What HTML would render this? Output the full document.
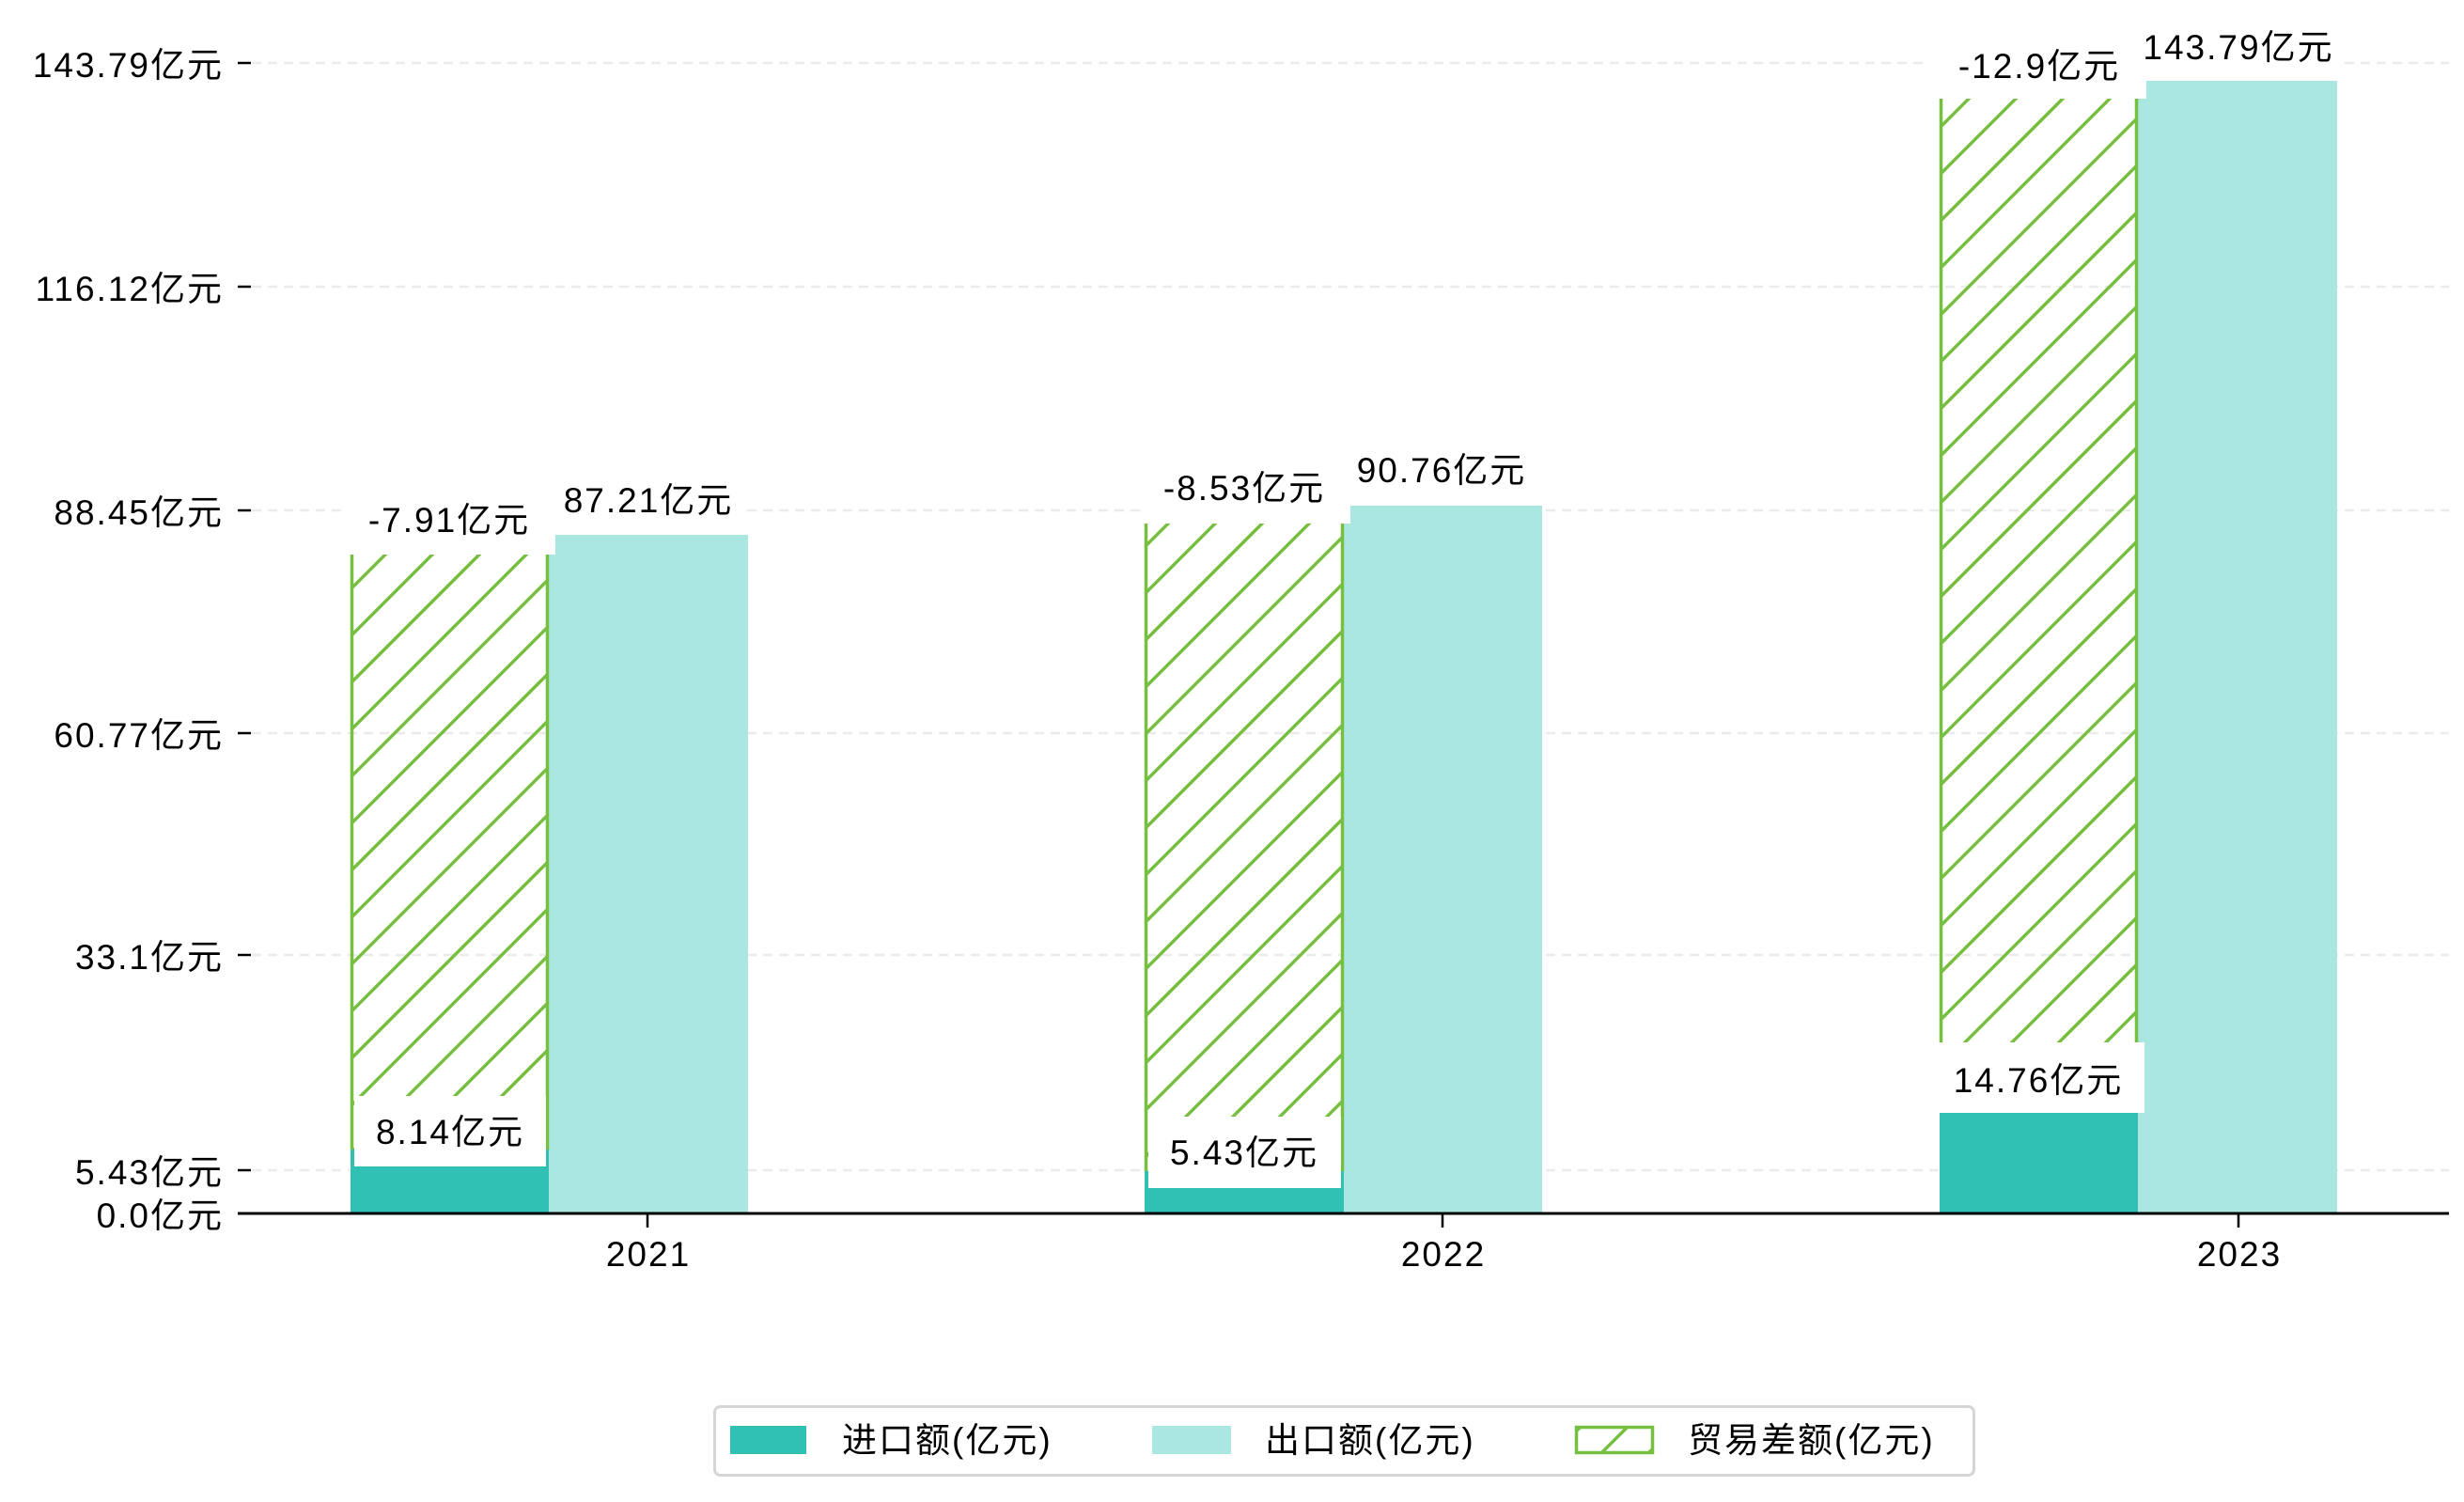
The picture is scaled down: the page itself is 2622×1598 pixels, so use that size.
<!DOCTYPE html>
<html><head><meta charset="utf-8"><style>
html,body{margin:0;padding:0;background:#fff;}
svg{display:block;}
text{font-family:"Liberation Sans","WenQuanYi Zen Hei","Noto Sans CJK SC",sans-serif;font-size:37px;fill:#000;letter-spacing:2px;}
</style></head><body>
<svg width="2622" height="1598" viewBox="0 0 2622 1598" xmlns="http://www.w3.org/2000/svg">
<defs>
<pattern id="h" patternUnits="userSpaceOnUse" width="50" height="50">
<path d="M0 50L50 0M-25 25L25 -25M25 75L75 25" stroke="#77bf41" stroke-width="3.5"/>
</pattern>
</defs>
<rect width="2622" height="1598" fill="#fff"/>
<g stroke="#ebebeb" stroke-width="2.5" stroke-dasharray="10 7">
<line x1="268" y1="67" x2="2606" y2="67"/>
<line x1="268" y1="305" x2="2606" y2="305"/>
<line x1="268" y1="543" x2="2606" y2="543"/>
<line x1="268" y1="780" x2="2606" y2="780"/>
<line x1="268" y1="1016" x2="2606" y2="1016"/>
<line x1="268" y1="1245" x2="2606" y2="1245"/>
</g>
<g stroke="#000" stroke-width="2.5">
<line x1="253" y1="67" x2="267" y2="67"/>
<line x1="253" y1="305" x2="267" y2="305"/>
<line x1="253" y1="543" x2="267" y2="543"/>
<line x1="253" y1="780" x2="267" y2="780"/>
<line x1="253" y1="1016" x2="267" y2="1016"/>
<line x1="253" y1="1245" x2="267" y2="1245"/>
</g>
<g text-anchor="end">
<text x="238" y="82">143.79亿元</text>
<text x="238" y="320">116.12亿元</text>
<text x="238" y="558">88.45亿元</text>
<text x="238" y="795">60.77亿元</text>
<text x="238" y="1031">33.1亿元</text>
<text x="238" y="1260">5.43亿元</text>
<text x="238" y="1306">0.0亿元</text>
</g>
<!-- 2021 -->
<rect x="373" y="1223" width="211" height="68" fill="#31c1b4"/>
<rect x="584" y="569" width="212" height="722" fill="#abe7e1"/>
<rect x="373" y="590" width="211" height="633" fill="url(#h)"/>
<line x1="374.5" y1="590" x2="374.5" y2="1223" stroke="#77bf41" stroke-width="3.5"/>
<line x1="582.5" y1="590" x2="582.5" y2="1223" stroke="#77bf41" stroke-width="3.5"/>
<rect x="377" y="1166" width="204" height="75" fill="#fff"/>
<rect x="368" y="515" width="223" height="75" fill="#fff"/>
<rect x="585" y="495" width="208" height="74" fill="#fff"/>
<!-- 2022 -->
<rect x="1218" y="1246" width="212" height="45" fill="#31c1b4"/>
<rect x="1430" y="538" width="211" height="753" fill="#abe7e1"/>
<rect x="1218" y="557" width="212" height="689" fill="url(#h)"/>
<line x1="1219.5" y1="557" x2="1219.5" y2="1246" stroke="#77bf41" stroke-width="3.5"/>
<line x1="1428.5" y1="557" x2="1428.5" y2="1246" stroke="#77bf41" stroke-width="3.5"/>
<rect x="1222" y="1188" width="205" height="76" fill="#fff"/>
<rect x="1213" y="482" width="224" height="75" fill="#fff"/>
<rect x="1431" y="463" width="208" height="75" fill="#fff"/>
<!-- 2023 -->
<rect x="2064" y="1184" width="211" height="107" fill="#31c1b4"/>
<rect x="2275" y="86" width="212" height="1205" fill="#abe7e1"/>
<rect x="2064" y="105" width="211" height="1079" fill="url(#h)"/>
<line x1="2065.5" y1="105" x2="2065.5" y2="1184" stroke="#77bf41" stroke-width="3.5"/>
<line x1="2273.5" y1="105" x2="2273.5" y2="1184" stroke="#77bf41" stroke-width="3.5"/>
<rect x="2000" y="1109" width="282" height="75" fill="#fff"/>
<rect x="2050" y="30" width="234" height="75" fill="#fff"/>
<rect x="2270" y="11" width="222" height="75" fill="#fff"/>
<g text-anchor="middle">
<text x="479" y="1217">8.14亿元</text>
<text x="478" y="566">-7.91亿元</text>
<text x="690" y="545">87.21亿元</text>
<text x="1324" y="1239">5.43亿元</text>
<text x="1324" y="532">-8.53亿元</text>
<text x="1534" y="513">90.76亿元</text>
<text x="2169" y="1162">14.76亿元</text>
<text x="2170" y="83">-12.9亿元</text>
<text x="2382" y="63">143.79亿元</text>
</g>
<line x1="253" y1="1291" x2="2606" y2="1291" stroke="#000" stroke-width="3"/>
<g stroke="#000" stroke-width="2.5">
<line x1="689" y1="1291" x2="689" y2="1306"/>
<line x1="1535" y1="1291" x2="1535" y2="1306"/>
<line x1="2382" y1="1291" x2="2382" y2="1306"/>
</g>
<g text-anchor="middle">
<text x="690" y="1347">2021</text>
<text x="1536" y="1347">2022</text>
<text x="2383" y="1347">2023</text>
</g>
<rect x="760.5" y="1496.5" width="1340" height="73" rx="6" fill="#fff" stroke="#d5d5d5" stroke-width="3"/>
<rect x="777" y="1517" width="81" height="30" fill="#31c1b4"/>
<text x="896" y="1545">进口额(亿元)</text>
<rect x="1226" y="1517" width="84" height="30" fill="#abe7e1"/>
<text x="1346" y="1545">出口额(亿元)</text>
<rect x="1677.5" y="1518.5" width="81" height="27" fill="url(#h)" stroke="#77bf41" stroke-width="3.5"/>
<text x="1796" y="1545">贸易差额(亿元)</text>
</svg>
</body></html>
